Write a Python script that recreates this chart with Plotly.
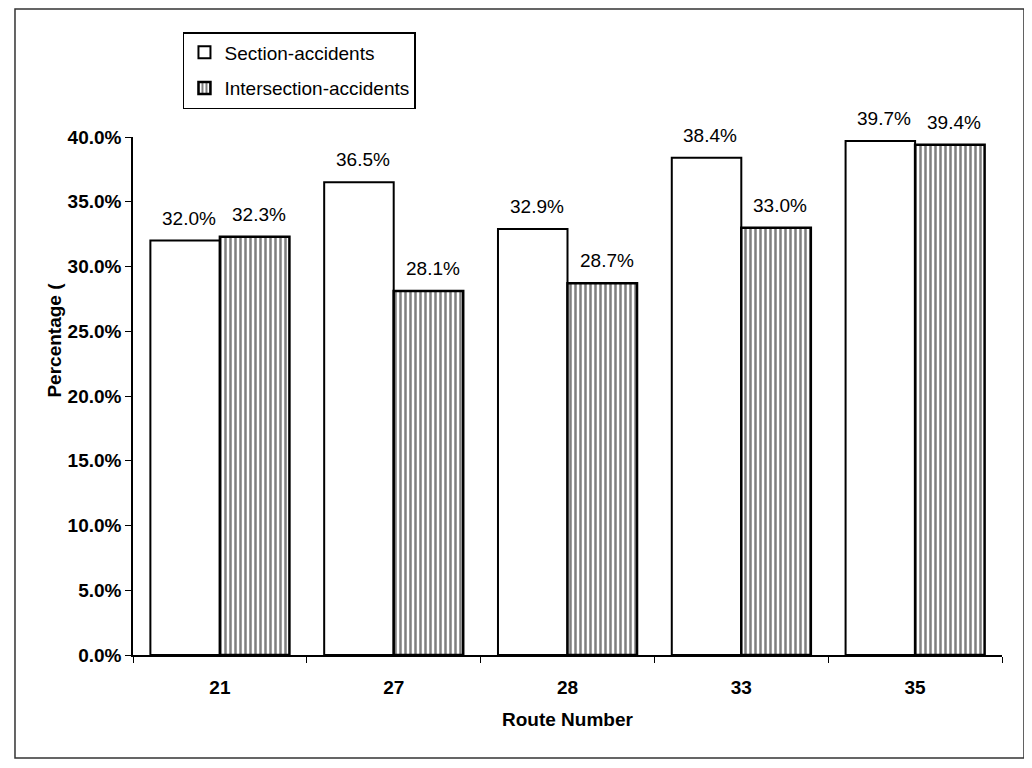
import plotly.graph_objects as go

routes = ["21", "27", "28", "33", "35"]
section = [0.320, 0.365, 0.329, 0.384, 0.397]
intersection = [0.323, 0.281, 0.287, 0.330, 0.394]
y_ticks = [0, 0.05, 0.10, 0.15, 0.20, 0.25, 0.30, 0.35, 0.40]

FONT = "Liberation Sans, Arial, sans-serif"

fig = go.Figure()
fig.add_trace(go.Bar(
    x=routes, y=section, name="Section-accidents", legendgroup="a",
    marker=dict(color="white", line=dict(color="black", width=2)),
))
fig.add_trace(go.Bar(
    x=routes, y=intersection, name="Intersection-accidents", legendgroup="b",
    marker=dict(color="white", line=dict(color="black", width=2.5),
                pattern=dict(shape="|", fgcolor="black", bgcolor="white",
                             size=5, solidity=0.5)),
))

# data labels (x given as category index on the category axis)
for i, v in enumerate(section):
    fig.add_annotation(x=i, y=v, text=f"{v*100:.1f}%", showarrow=False,
                       xshift=-31, yshift=10, yanchor="bottom",
                       font=dict(family=FONT, size=19, color="black"))
for i, v in enumerate(intersection):
    fig.add_annotation(x=i, y=v, text=f"{v*100:.1f}%", showarrow=False,
                       xshift=39, yshift=10, yanchor="bottom",
                       font=dict(family=FONT, size=19, color="black"))

# axis titles
fig.add_annotation(xref="paper", yref="paper", x=0.5, y=-0.1486,
                   text="<b>Route Number</b>", showarrow=False,
                   font=dict(family=FONT, size=19, color="black"))
fig.add_annotation(xref="paper", yref="paper", x=-0.1047, y=0.608,
                   text="<b>Percentage (</b>", showarrow=False, textangle=-90,
                   font=dict(family=FONT, size=19, color="black"))

# outer frame
fig.add_shape(type="rect", xref="paper", yref="paper",
              x0=-0.1358, x1=1.0253, y0=-0.1988, y1=1.2471,
              line=dict(color="#333333", width=1.5))

fig.update_layout(
    width=1032, height=768,
    margin=dict(l=125, r=38, t=129, b=121),
    paper_bgcolor="white", plot_bgcolor="white",
    barmode="group", bargap=0.2, bargroupgap=0,
    font=dict(family=FONT, size=19, color="black"),
    showlegend=True,
    legend=dict(x=0.0575, y=1.2027, xanchor="left", yanchor="top",
                bordercolor="black", borderwidth=1.5, bgcolor="white",
                traceorder="grouped", tracegroupgap=8,
                font=dict(family=FONT, size=19, color="black"),
                itemwidth=30),
    xaxis=dict(type="category", categoryorder="array", categoryarray=routes,
               range=[-0.5, len(routes) - 0.5],
               showline=True, linecolor="black", linewidth=1.5,
               ticks="outside", ticklen=6, tickcolor="black",
               tickson="boundaries", showgrid=False, tickangle=0,
               ticklabelstandoff=14,
               tickfont=dict(family=FONT, size=19, color="black", weight="bold")),
    yaxis=dict(range=[0, 0.4], tickvals=y_ticks, tickformat=".1%",
               showline=True, linecolor="black", linewidth=1.5,
               ticks="outside", ticklen=6, tickcolor="black",
               showgrid=False, zeroline=False,
               tickfont=dict(family=FONT, size=19, color="black", weight="bold")),
    yaxis2=dict(range=[0, 0.4], tickvals=y_ticks, overlaying="y",
                side="left", ticks="inside", ticklen=6, tickcolor="black",
                showticklabels=False, showgrid=False, zeroline=False,
                showline=False),
)

fig.write_html("out.html")
